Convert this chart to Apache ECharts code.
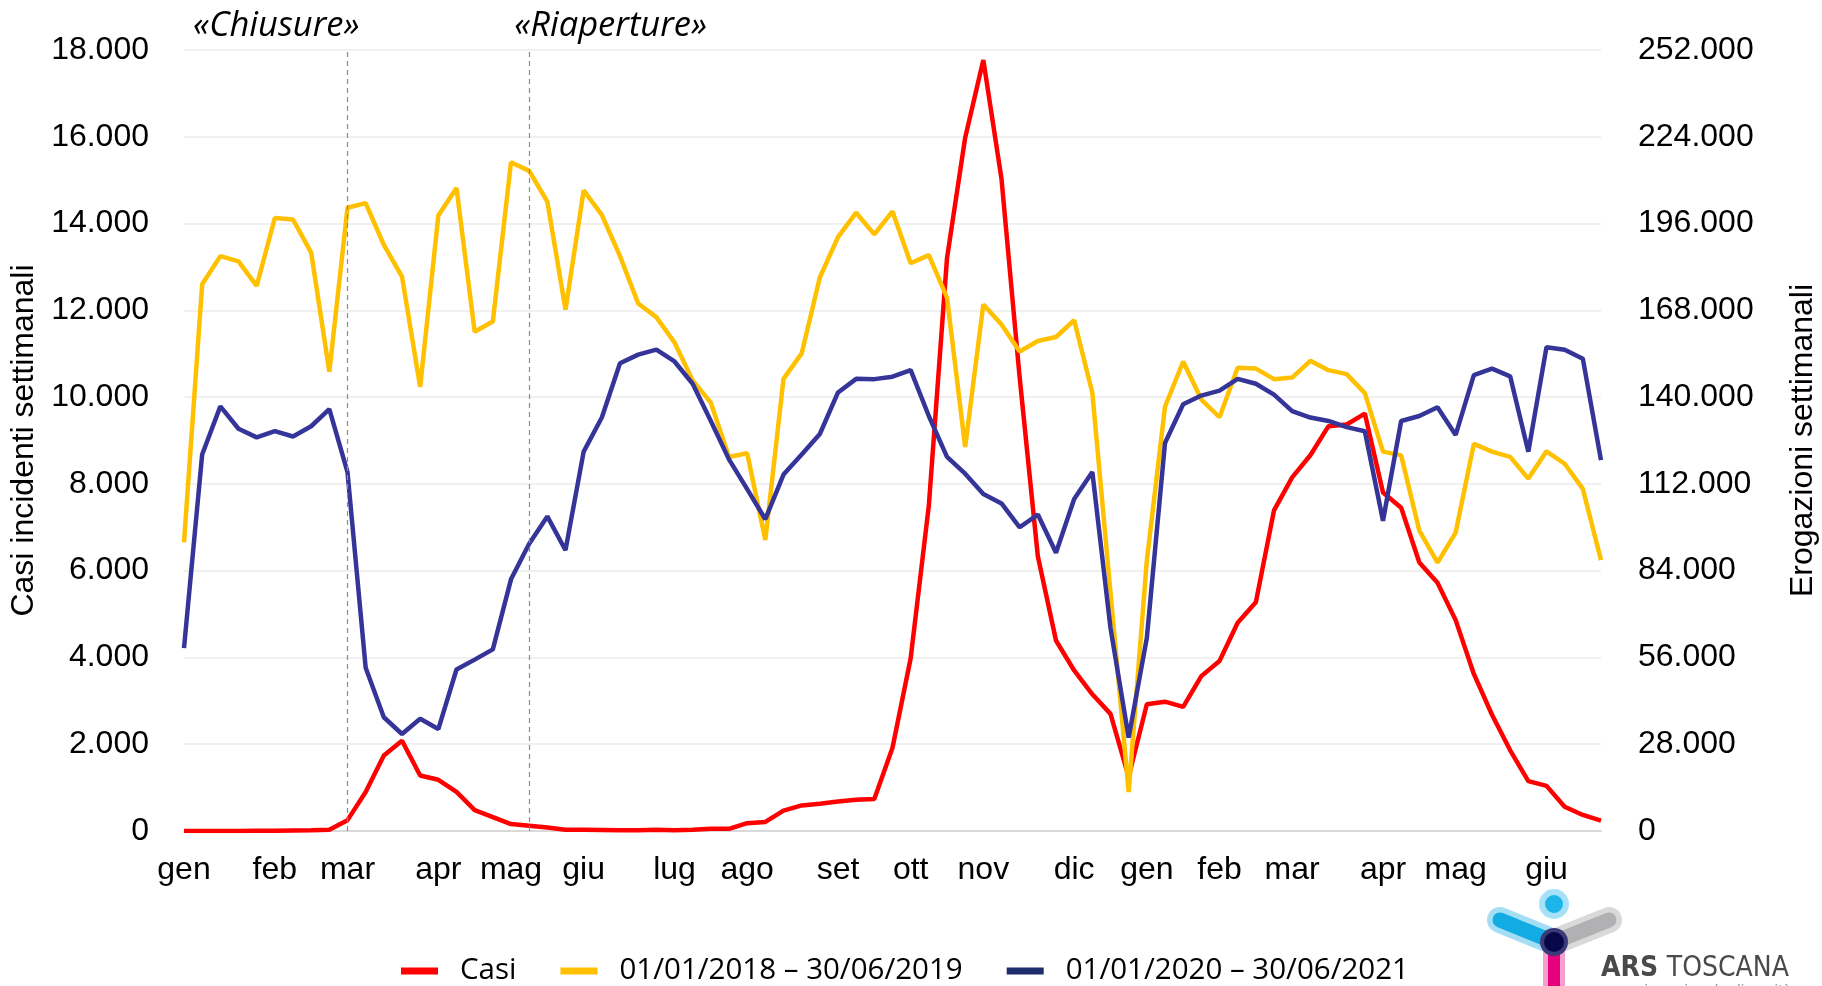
<!DOCTYPE html>
<html>
<head>
<meta charset="utf-8">
<script src="https://cdn.jsdelivr.net/npm/echarts@6/dist/echarts.min.js"></script>
<style>html,body{margin:0;padding:0;background:#fff}#c{width:1822px;height:986px}</style>
</head>
<body>
<div id="c"></div>
<script>
// ---- DATA ----
// weekly categories: ISO weeks 2020-W01 .. 2020-W53, 2021-W01 .. 2021-W26
const weeks = [];
for (let w = 1; w <= 53; w++) weeks.push('2020-W' + String(w).padStart(2, '0'));
for (let w = 1; w <= 26; w++) weeks.push('2021-W' + String(w).padStart(2, '0'));

const monthIndex = [0, 5, 9, 14, 18, 22, 27, 31, 36, 40, 44, 49, 53, 57, 61, 66, 70, 75];
const monthNames = ['gen', 'feb', 'mar', 'apr', 'mag', 'giu', 'lug', 'ago', 'set', 'ott', 'nov', 'dic', 'gen', 'feb', 'mar', 'apr', 'mag', 'giu'];

const leftTicks = { min: 0, max: 18000, interval: 2000 };
const rightTicks = { min: 0, max: 252000, interval: 28000 };

const seriesNames = ['Casi', '01/01/2018 \u2013 30/06/2019', '01/01/2020 \u2013 30/06/2021'];

const casi = [0, 0, 0, 0, 5, 5, 10, 15, 30,
  250, 900, 1740, 2080, 1280, 1180, 900, 480, 320, 160,
  120, 80, 30, 30, 25, 20, 20, 30, 20, 30,
  50, 50, 180, 210, 470, 590, 630, 680, 720, 740,
  1920, 3980, 7500, 13200, 15980, 17770, 15030, 10450, 6330, 4390,
  3700, 3150, 2700, 1250, 2920, 2980, 2860, 3570, 3920, 4800,
  5270, 7390, 8150, 8660, 9330, 9370, 9620, 7800, 7450, 6190,
  5720, 4860, 3620, 2680, 1860, 1150, 1040, 560, 370, 240];

const erog1819 = [93100, 176400, 185500, 183800, 175900, 197800, 197300, 186600, 148200,
  201100, 202600, 189100, 178900, 143300, 198600, 207500, 161100, 164400, 215800,
  213000, 203100, 168200, 206700, 198800, 185500, 170200, 165800, 157600, 145400,
  138200, 120700, 121900, 93900, 145900, 154100, 178600, 191600, 199500, 192500,
  199900, 183200, 185800, 172100, 123900, 169900, 163400, 154700, 158100, 159400,
  164800, 141400, 77000, 12600, 87300, 136900, 151500, 139200, 133500, 149500,
  149200, 145800, 146300, 151700, 148700, 147400, 141300, 122400, 121200, 96900,
  86600, 96300, 124900, 122400, 120700, 113700, 122500, 118500, 110400, 87400];

const erog2021 = [59000, 121500, 137000, 129800, 127000, 129000, 127300, 130600, 136100,
  115800, 52700, 36700, 31300, 36200, 32900, 52100, 55300, 58600, 81200,
  92700, 101500, 90600, 122400, 133400, 150900, 153700, 155300, 151500, 144300,
  132300, 119900, 110300, 100600, 115000, 121500, 128100, 141500, 145900, 145800,
  146600, 148700, 133900, 120700, 115300, 108700, 105700, 98000, 102100, 89800,
  107100, 115800, 65500, 30100, 62300, 125200, 137700, 140500, 142100, 145900,
  144300, 140800, 135500, 133400, 132300, 130300, 129000, 100100, 132300, 133900,
  136700, 127800, 147100, 149200, 146700, 122400, 156100, 155300, 152400, 119700];

const eventIndex = [9, 19];
const eventLabels = ['\u00abChiusure\u00bb', '\u00abRiaperture\u00bb'];

// ---- CHART ----
const monthAt = {};
monthIndex.forEach((i, k) => { monthAt[i] = monthNames[k]; });
const fmt = v => String(v).replace(/\B(?=(\d{3})+(?!\d))/g, '.');
const sans = 'Liberation Sans, Arial, sans-serif';
const lab = { fontFamily: sans, fontSize: 32, color: '#000' };

const chart = echarts.init(document.getElementById('c'));
chart.setOption({
  animation: false,
  backgroundColor: '#fff',
  grid: { left: 184, right: 221, top: 50, bottom: 155, containLabel: false, outerBoundsMode: 'none' },
  legend: {
    left: 396, top: 951,
    icon: 'rect', itemWidth: 37, itemHeight: 7, itemGap: 44,
    textStyle: { fontFamily: 'Open Sans, sans-serif', fontSize: 29.5, color: '#000', padding: [0, 0, 0, 17] },
    data: seriesNames
  },
  xAxis: {
    type: 'category', data: weeks, boundaryGap: false,
    axisLine: { lineStyle: { color: '#D9D9D9', width: 2 } },
    axisTick: { show: false },
    splitLine: { show: false },
    axisLabel: Object.assign({ interval: 0, margin: 23, formatter: (v, i) => monthAt[i] || '' }, lab)
  },
  yAxis: [{
    type: 'value', position: 'left', min: leftTicks.min, max: leftTicks.max, interval: leftTicks.interval,
    name: 'Casi incidenti settimanali', nameLocation: 'middle', nameGap: 142, nameRotate: 90,
    nameTextStyle: { fontFamily: sans, fontSize: 32, color: '#000' },
    axisLine: { show: false }, axisTick: { show: false },
    axisLabel: Object.assign({ margin: 35, formatter: fmt }, lab),
    splitLine: { lineStyle: { color: '#EBEBEB', width: 1.5 } }
  }, {
    type: 'value', position: 'right', min: rightTicks.min, max: rightTicks.max, interval: rightTicks.interval,
    name: 'Erogazioni settimanali', nameLocation: 'middle', nameGap: 186, nameRotate: 90,
    nameTextStyle: { fontFamily: sans, fontSize: 32, color: '#000' },
    axisLine: { show: false }, axisTick: { show: false },
    axisLabel: Object.assign({ margin: 37, formatter: fmt }, lab),
    splitLine: { show: false }
  }],
  series: [{
    name: seriesNames[0], type: 'line', yAxisIndex: 0, data: casi,
    showSymbol: false, symbol: 'none',
    lineStyle: { color: '#FF0000', width: 4.5 }, itemStyle: { color: '#FF0000' },
    markLine: {
      silent: true, symbol: 'none',
      label: { show: false },
      lineStyle: { type: [5, 4], color: '#8C8C8C', width: 1.2 },
      data: eventIndex.map(i => ({ xAxis: weeks[i] }))
    }
  }, {
    name: seriesNames[1], type: 'line', yAxisIndex: 1, data: erog1819,
    showSymbol: false, symbol: 'none',
    lineStyle: { color: '#FFC000', width: 4.5 }, itemStyle: { color: '#FFC000' }
  }, {
    name: seriesNames[2], type: 'line', yAxisIndex: 1, data: erog2021,
    showSymbol: false, symbol: 'none',
    lineStyle: { color: '#353599', width: 4.5 }, itemStyle: { color: '#1F2D6B' }
  }]
});

// annotations tied to event lines + logo
const xs = eventIndex.map(i => chart.convertToPixel({ xAxisIndex: 0 }, weeks[i]));
const annoFont = 'italic 34.5px "Open Sans", sans-serif';
chart.setOption({
  graphic: [
    { type: 'text', x: xs[0] + 12, y: 26, style: { text: eventLabels[0], font: annoFont, fill: '#000', align: 'right', verticalAlign: 'middle' } },
    { type: 'text', x: xs[1] - 15, y: 26, style: { text: eventLabels[1], font: annoFont, fill: '#000', align: 'left', verticalAlign: 'middle' } },
    // logo
    { type: 'line', shape: { x1: 1500, y1: 920, x2: 1554, y2: 942 }, style: { stroke: '#a3def5', lineWidth: 26, lineCap: 'round' } },
    { type: 'line', shape: { x1: 1554, y1: 942, x2: 1609, y2: 920 }, style: { stroke: '#d9d9d9', lineWidth: 26, lineCap: 'round' } },
    { type: 'line', shape: { x1: 1500, y1: 920, x2: 1554, y2: 942 }, style: { stroke: '#12abe3', lineWidth: 15, lineCap: 'round' } },
    { type: 'line', shape: { x1: 1554, y1: 942, x2: 1609, y2: 920 }, style: { stroke: '#b1b1b3', lineWidth: 15, lineCap: 'round' } },
    { type: 'line', shape: { x1: 1554, y1: 942, x2: 1554, y2: 1000 }, style: { stroke: '#f4a0cc', lineWidth: 22 } },
    { type: 'line', shape: { x1: 1554, y1: 942, x2: 1554, y2: 1000 }, style: { stroke: '#e6007e', lineWidth: 12 } },
    { type: 'circle', shape: { cx: 1554, cy: 942, r: 14 }, style: { fill: '#3a3a78' } },
    { type: 'circle', shape: { cx: 1554, cy: 942, r: 10 }, style: { fill: '#07074a' } },
    { type: 'circle', shape: { cx: 1554, cy: 904, r: 15 }, style: { fill: '#a6e1f7' } },
    { type: 'circle', shape: { cx: 1554, cy: 904, r: 9 }, style: { fill: '#1db4ea' } },
    { type: 'text', x: 1601, y: 969, style: {
        text: '{b|ARS }{r|TOSCANA}', verticalAlign: 'middle', align: 'left',
        rich: {
          b: { font: 'bold 28px "Liberation Sans Narrow", "DejaVu Sans Condensed", sans-serif', fill: '#4a4a4a' },
          r: { font: '28px "Liberation Sans Narrow", "DejaVu Sans Condensed", sans-serif', fill: '#4a4a4a' }
        } } },
    { type: 'text', x: 1601, y: 984, style: { text: 'agenzia regionale di sanità', font: '16px "Liberation Sans", sans-serif', fill: '#9a9a9a' } }
  ]
});
</script>
</body>
</html>
